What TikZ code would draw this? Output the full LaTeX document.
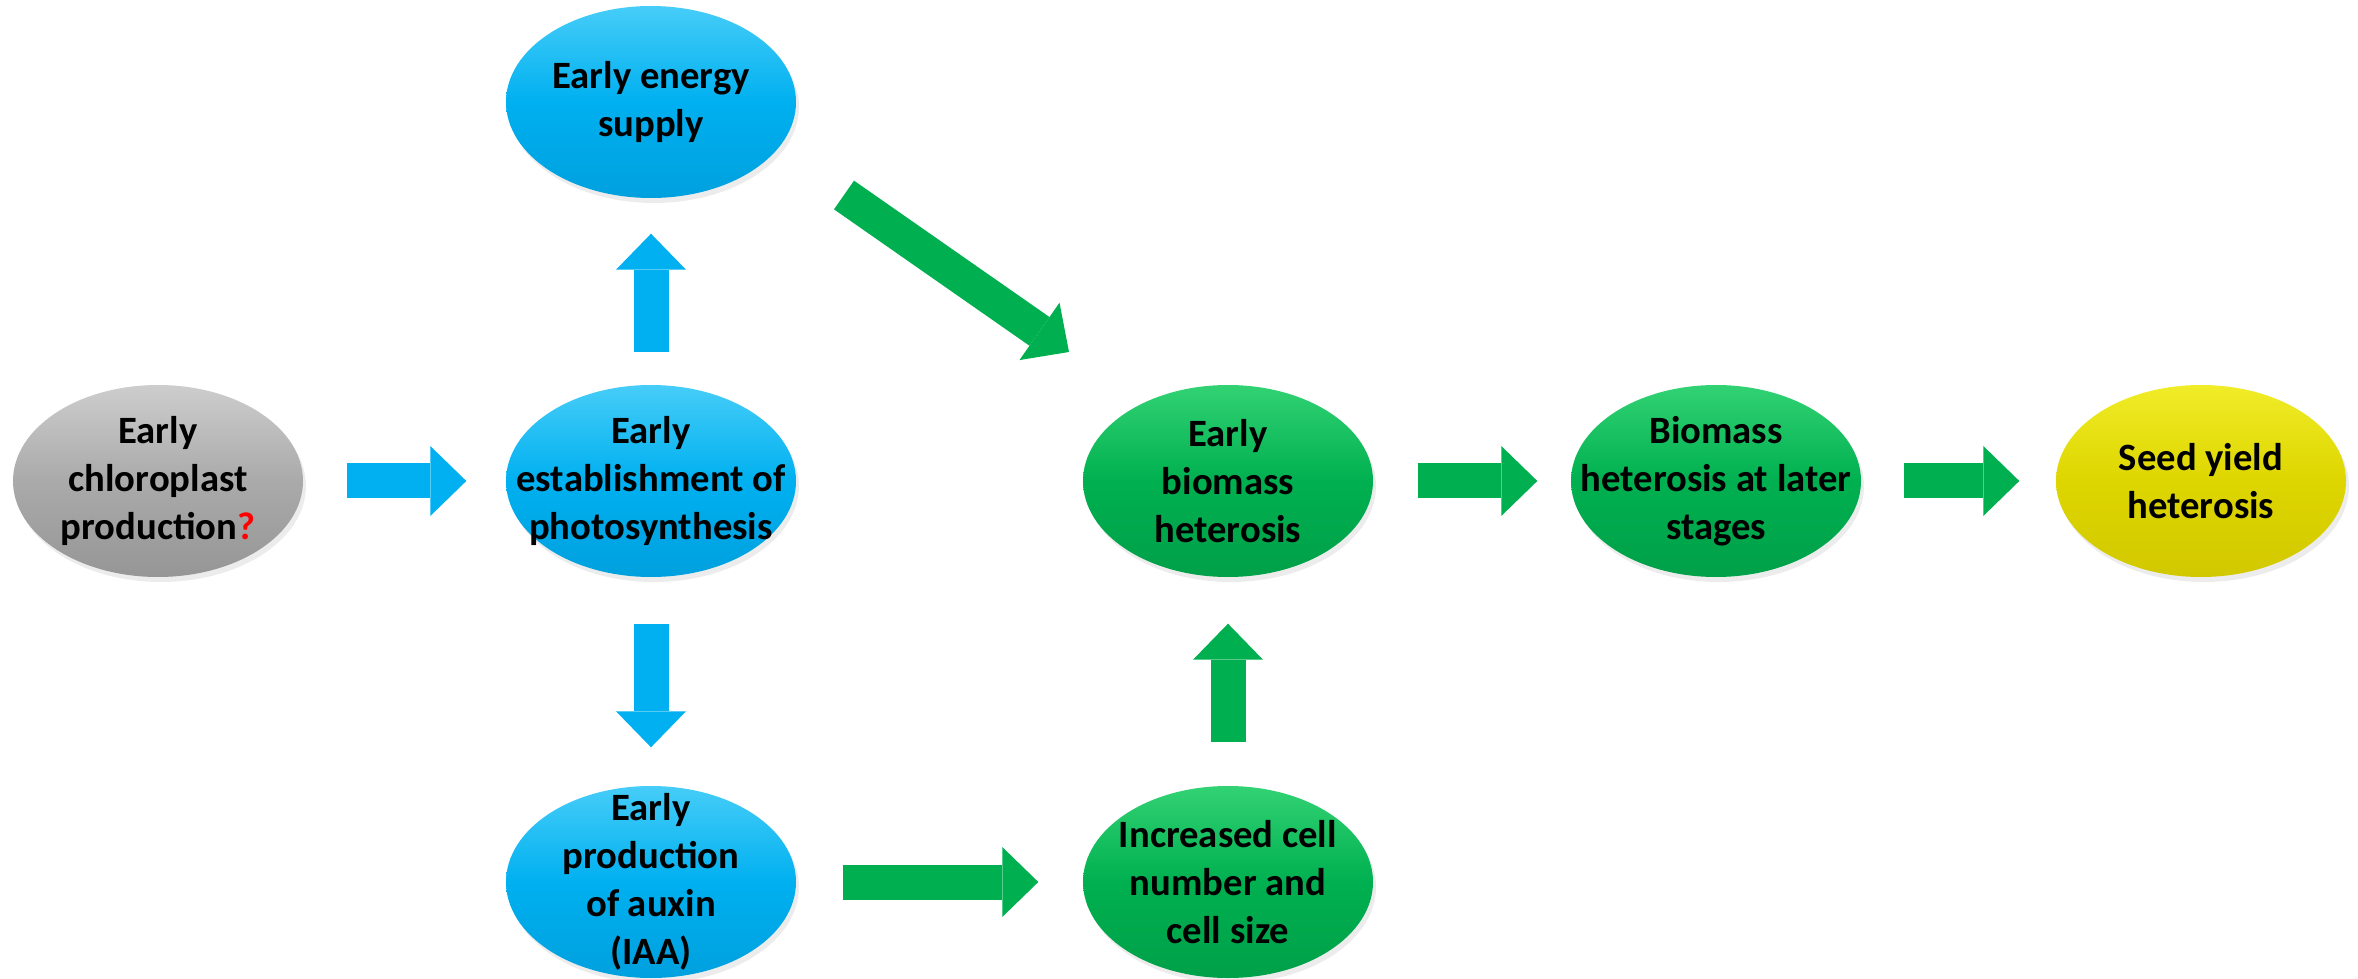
\documentclass[tikz,border=0pt]{standalone}
\usepackage{fontspec}
\setmainfont{Carlito}
\usepackage{tikz}
\usetikzlibrary{positioning,calc,arrows.meta,shapes.geometric,shadows}
\definecolor{photoblue}{RGB}{0,176,240}
\definecolor{photobluetop}{RGB}{70,205,248}
\definecolor{photobluebot}{RGB}{0,160,222}
\definecolor{massgreen}{RGB}{0,176,80}
\definecolor{massgreentop}{RGB}{50,210,115}
\definecolor{massgreenbot}{RGB}{0,160,72}
\definecolor{seedyellow}{RGB}{222,214,0}
\definecolor{seedyellowtop}{RGB}{240,236,40}
\definecolor{seedyellowbot}{RGB}{210,200,0}
\definecolor{plastgrey}{RGB}{170,170,170}
\definecolor{plastgreytop}{RGB}{205,205,205}
\definecolor{plastgreybot}{RGB}{150,150,150}

\begin{document}
\begin{tikzpicture}[every node/.style={font=\bfseries\fontsize{11}{13.6}\selectfont}]
  \useasboundingbox (0,0) rectangle (23.58,9.78);
  \tikzstyle{bubble}=[ellipse, minimum width=2.9cm, minimum height=1.92cm, inner sep=0pt,
    drop shadow={shadow xshift=0.03cm, shadow yshift=-0.05cm, opacity=0.15}]
  \tikzstyle{bluebub}=[bubble, top color=photobluetop, bottom color=photobluebot, middle color=photoblue]
  \tikzstyle{greenbub}=[bubble, top color=massgreentop, bottom color=massgreenbot, middle color=massgreen]
  \tikzstyle{yellowbub}=[bubble, top color=seedyellowtop, bottom color=seedyellowbot, middle color=seedyellow]
  \tikzstyle{greybub}=[bubble, top color=plastgreytop, bottom color=plastgreybot, middle color=plastgrey]
  \tikzstyle{inside}=[align=center]
  \tikzstyle{blockarrow}=[line width=0.35cm, -{Triangle[width=0.7cm,length=0.36cm,line width=0pt]}]
  % first column and photosynthesis branch
  \node[greybub] (plast) at (1.58,4.97) {};
  \node[inside] at (plast) {Early\\chloroplast\\production{\color{red}?}};
  \node[bluebub] (photo) at (6.51,4.97) {};
  \node[inside] at (photo) {Early\\establishment of\\photosynthesis};
  \node[bluebub] (energy) at (6.51,8.76) {};
  \node[inside] at (energy) {Early energy\\supply};
  \node[bluebub] (auxin) at (6.51,0.96) {};
  \node[inside] at (auxin) {Early\\production\\of auxin\\(IAA)};
  % biomass column and yield
  \node[greenbub] (early) at (12.28,4.97) {};
  \node[inside] at (early) {Early\\biomass\\heterosis};
  \node[greenbub] (cell) at (12.28,0.96) {};
  \node[inside] at (cell) {Increased cell\\number and\\cell size};
  \node[greenbub] (later) at (17.16,4.97) {};
  \node[inside] at (later) {Biomass\\heterosis at later\\stages};
  \node[yellowbub] (seed) at (22.01,4.97) {};
  \node[inside] at (seed) {Seed yield\\heterosis};
  % blue arrows
  \draw[blockarrow, photoblue, shorten <=0.43cm, shorten >=0.39cm] (plast) -- (photo);
  \draw[blockarrow, photoblue, shorten <=0.32cm, shorten >=0.35cm] (photo) -- (energy);
  \draw[blockarrow, photoblue, shorten <=0.46cm, shorten >=0.38cm] (photo) -- (auxin);
  % green arrows
  \draw[blockarrow, massgreen] ($(energy.center)+(1.93,-0.93)$) -- ($(early.center)+(-1.59,1.29)$);
  \draw[blockarrow, massgreen, shorten <=0.46cm, shorten >=0.44cm] (auxin) -- (cell);
  \draw[blockarrow, massgreen, shorten <=0.43cm, shorten >=0.46cm] (cell) -- (early);
  \draw[blockarrow, massgreen, shorten <=0.44cm, shorten >=0.33cm] (early) -- (later);
  \draw[blockarrow, massgreen, shorten <=0.42cm, shorten >=0.36cm] (later) -- (seed);
\end{tikzpicture}
\end{document}
